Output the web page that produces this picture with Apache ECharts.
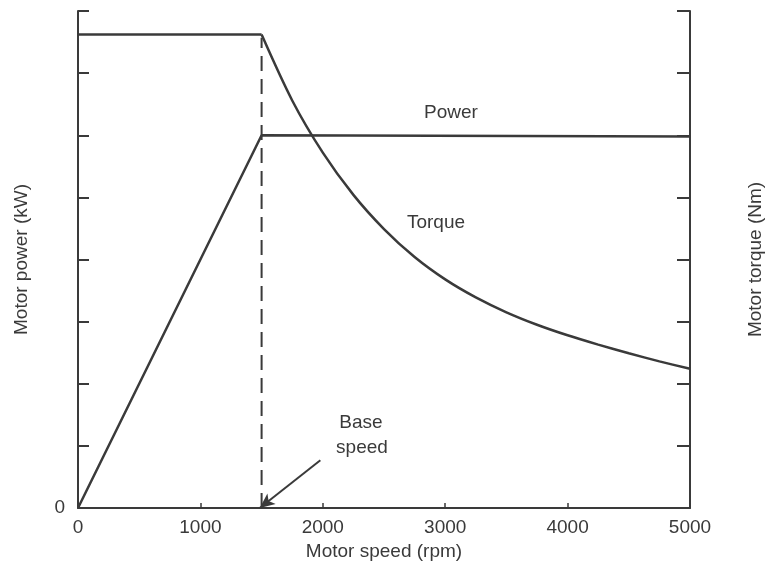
<!DOCTYPE html>
<html>
<head>
<meta charset="utf-8">
<script src="https://cdn.jsdelivr.net/npm/echarts@6/dist/echarts.min.js"></script>
<style>
  html, body { margin: 0; padding: 0; background: #fff; }
  #chart { width: 768px; height: 566px; }
</style>
</head>
<body>
<div id="chart"></div>
<script>
// motor speed (rpm) / power (axis units)
var powerSpeed = [0, 1500, 5000];
var powerValue = [0, 6, 5.98];
// constant torque part, then the falling part
var torqueFlatSpeed = [0, 1500];
var torqueFlatValue = [7.62, 7.62];
var torqueSpeed = [1500, 1750, 2000, 2250, 2500, 2750, 3000, 3250, 3500, 3750, 4000, 4250, 4500, 4750, 5000];
var torqueValue = [7.62, 6.56, 5.72, 5.04, 4.49, 4.04, 3.68, 3.39, 3.15, 2.95, 2.78, 2.63, 2.49, 2.36, 2.24];
var baseSpeed = 1500;
var xTicks = [0, 1000, 2000, 3000, 4000, 5000];

var myChart = echarts.init(document.getElementById('chart'));
var ink = '#3a3a3a';
var font = 'Liberation Sans, Arial, sans-serif';
var fs = 19;

function pairs(xs, ys) {
    return xs.map(function (x, i) { return [x, ys[i]]; });
}

var option = {
    animation: false,
    backgroundColor: '#fff',
    grid: { left: 78, right: 78, top: 11, bottom: 58, outerBoundsMode: 'none', containLabel: false },
    xAxis: {
        type: 'value',
        min: 0, max: 5000, interval: 1000,
        name: 'Motor speed (rpm)',
        nameLocation: 'middle',
        nameGap: 34,
        nameTextStyle: { color: ink, fontSize: fs, fontFamily: font },
        axisLine: { lineStyle: { color: ink, width: 2 } },
        axisTick: { inside: true, length: 5, lineStyle: { color: ink, width: 1.5 } },
        axisLabel: {
            color: ink, fontSize: fs, fontFamily: font, margin: 10,
            formatter: function (v) { return xTicks.indexOf(v) >= 0 ? String(v) : ''; }
        },
        splitLine: { show: false }
    },
    yAxis: [{
        type: 'value',
        min: 0, max: 8, interval: 1,
        name: 'Motor power (kW)',
        nameLocation: 'middle',
        nameGap: 47,
        nameTextStyle: { color: ink, fontSize: fs, fontFamily: font },
        axisLine: { show: true, lineStyle: { color: ink, width: 2 } },
        axisTick: { show: true, inside: true, length: 11, lineStyle: { color: ink, width: 2 } },
        axisLabel: {
            color: ink, fontSize: fs, fontFamily: font, margin: 13,
            formatter: function (v) { return v === 0 ? '0' : ''; }
        },
        splitLine: { show: false }
    }, {
        type: 'value',
        min: 0, max: 8, interval: 1,
        position: 'right',
        name: 'Motor torque (Nm)',
        nameLocation: 'middle',
        nameGap: 56,
        nameTextStyle: { color: ink, fontSize: fs, fontFamily: font },
        axisLine: { show: true, lineStyle: { color: ink, width: 2 } },
        axisTick: { show: true, inside: true, length: 13, lineStyle: { color: ink, width: 2 } },
        axisLabel: { show: false },
        splitLine: { show: false }
    }],
    series: [{
        name: 'Power',
        type: 'line',
        yAxisIndex: 0,
        showSymbol: false,
        data: pairs(powerSpeed, powerValue),
        lineStyle: { color: ink, width: 2.5 },
        markLine: {
            silent: true,
            symbol: ['none', 'arrow'],
            symbolSize: [10, 15],
            label: { show: false },
            lineStyle: { color: ink, width: 2, type: 'solid' },
            data: [[{ coord: [1980, 0.77] }, { coord: [1485, 0] }]]
        }
    }, {
        name: 'Torque flat',
        type: 'line',
        yAxisIndex: 1,
        showSymbol: false,
        data: pairs(torqueFlatSpeed, torqueFlatValue),
        lineStyle: { color: ink, width: 2.5 }
    }, {
        name: 'Torque',
        type: 'line',
        yAxisIndex: 1,
        showSymbol: false,
        smooth: 0.3,
        data: pairs(torqueSpeed, torqueValue),
        lineStyle: { color: ink, width: 2.5 }
    }, {
        name: 'Base speed',
        type: 'line',
        yAxisIndex: 1,
        showSymbol: false,
        data: [[baseSpeed, 0], [baseSpeed, torqueFlatValue[1] - 0.05]],
        lineStyle: { color: ink, width: 2, type: [15, 8] }
    }],
    graphic: [
        { type: 'text', x: 451, y: 113, style: { text: 'Power', fill: ink, font: fs + 'px ' + font, align: 'center', verticalAlign: 'middle' } },
        { type: 'text', x: 436, y: 223, style: { text: 'Torque', fill: ink, font: fs + 'px ' + font, align: 'center', verticalAlign: 'middle' } },
        { type: 'text', x: 361, y: 423, style: { text: 'Base', fill: ink, font: fs + 'px ' + font, align: 'center', verticalAlign: 'middle' } },
        { type: 'text', x: 362, y: 448, style: { text: 'speed', fill: ink, font: fs + 'px ' + font, align: 'center', verticalAlign: 'middle' } }
    ]
};
myChart.setOption(option);
</script>
</body>
</html>
